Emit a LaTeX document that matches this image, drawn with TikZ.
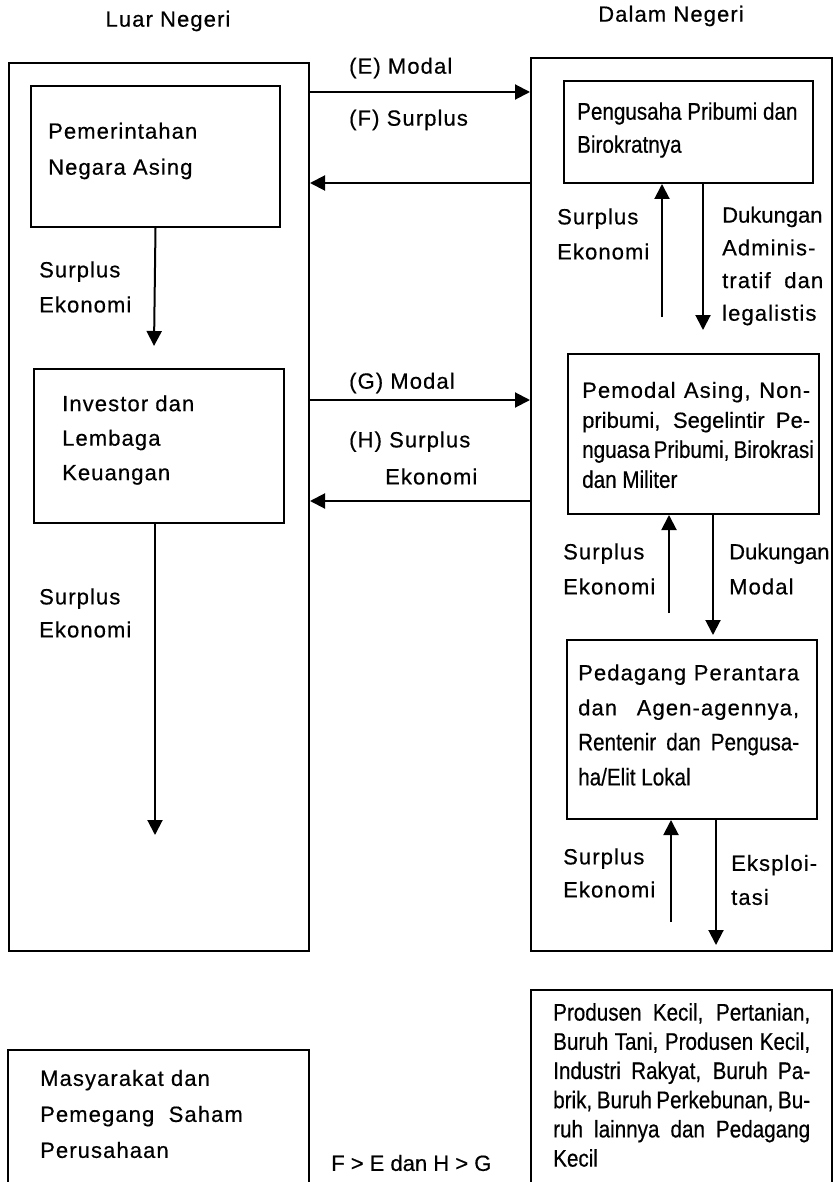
\documentclass[tikz,border=0pt]{standalone}
\usepackage{fontspec}
\setmainfont[FakeBold=0.5]{Liberation Sans}
\newfontfamily\widefont[LetterSpace=5,FakeBold=0.5]{Liberation Sans}
\newfontfamily\tightfont[FakeStretch=0.86,FakeBold=0.5]{Liberation Sans}
\usetikzlibrary{arrows.meta}

\tikzset{
  box/.style={draw, line width=2pt, inner sep=0pt, anchor=north west},
  arr/.style={line width=2pt, -{Triangle[length=15pt,width=15pt]}},
  lbl/.style={anchor=west, align=left, inner sep=0pt, font=\widefont\fontsize{22}{#1}\selectfont},
  lbl/.default=35,
  tlbl/.style={anchor=west, align=left, inner sep=0pt, font=\tightfont\fontsize{24}{#1}\selectfont},
  tlbl/.default=30,
  head/.style={inner sep=0pt, font=\widefont\fontsize{22}{26}\selectfont}
}

\begin{document}
\begin{tikzpicture}[x=1pt,y=-1pt]
  \useasboundingbox (0,0) rectangle (833,1182);
  \clip (0,0) rectangle (833,1182);

  \node[head] (luar) at (168,21) {Luar Negeri};
  \node[head] (dalam) at (671,16) {Dalam Negeri};

  \node[box, minimum width=300pt, minimum height=888pt] (lout) at (8,62) {};
  \node[box, minimum width=301pt, minimum height=893pt] (rout) at (530,57) {};

  \node[box, minimum width=249pt, minimum height=141pt] (gov) at (30,85) {};
  \node[box, minimum width=250pt, minimum height=154pt] (inv) at (33,368) {};
  \node[box, minimum width=249pt, minimum height=102pt] (peng) at (563,80) {};
  \node[box, minimum width=251pt, minimum height=160pt] (pmod) at (567,353) {};
  \node[box, minimum width=250pt, minimum height=179pt] (pdg) at (566,639) {};
  \node[box, minimum width=301pt, minimum height=170pt] (masy) at (7,1049) {};
  \node[box, minimum width=301pt, minimum height=230pt] (prod) at (530,989) {};

  \node[lbl=36] (govTxt) at (48,151) {Pemerintahan\\Negara Asing};
  \node[lbl=34.5] (invTxt) at (62,440) {Investor dan\\Lembaga\\Keuangan};
  \node[tlbl=33] (pengTxt) at (577,130) {Pengusaha Pribumi dan\\Birokratnya};
  \node[lbl=30] (pmodTxt) at (582,435) {\makebox[228pt][s]{Pemodal Asing, Non-}\\
    \makebox[228pt][s]{\normalfont pribumi, Segelintir Pe-}\\
    \makebox[228pt][s]{\tightfont\fontsize{24}{30}\selectfont nguasa Pribumi, Birokrasi}\\
    {\tightfont\fontsize{24}{30}\selectfont dan Militer}};
  \node[lbl=35] (pdgTxt) at (578,725) {\makebox[221pt][s]{Pedagang Perantara}\\
    \makebox[221pt][s]{dan Agen-agennya,}\\
    \makebox[221pt][s]{\tightfont\fontsize{24}{35}\selectfont Rentenir dan Pengusa-}\\
    {\tightfont\fontsize{24}{35}\selectfont ha/Elit Lokal}};
  \node[lbl=36] (masyTxt) at (40,1114) {Masyarakat dan\\Pemegang~~Saham\\Perusahaan};
  \node[tlbl=29.2] (prodTxt) at (553,1085) {\makebox[257pt][s]{Produsen Kecil, Pertanian,}\\
    \makebox[257pt][s]{Buruh Tani, Produsen Kecil,}\\
    \makebox[257pt][s]{Industri Rakyat, Buruh Pa-}\\
    \makebox[257pt][s]{brik, Buruh Perkebunan, Bu-}\\
    \makebox[257pt][s]{ruh lainnya dan Pedagang}\\
    Kecil};

  \node[lbl] (modE) at (349,68) {(E) Modal};
  \node[lbl] (surF) at (349,120) {(F) Surplus};
  \node[lbl] (modG) at (349,383) {(G) Modal};
  \node[lbl=37] (surH) at (349,458) {(H)~Surplus\\\hspace*{36pt}Ekonomi};
  \node[lbl] (surGov) at (39,287) {Surplus\\Ekonomi};
  \node[lbl=33] (surInv) at (39,613) {Surplus\\Ekonomi};
  \node[lbl] (surPeng) at (557,234) {Surplus\\Ekonomi};
  \node[lbl=32.7] (dukPeng) at (722,266) {{\normalfont Dukungan}\\Adminis-\\\makebox[101pt][s]{tratif dan}\\legalistis};
  \node[lbl] (surPmod) at (563,569) {Surplus\\Ekonomi};
  \node[lbl] (dukPmod) at (729,569) {{\normalfont Dukungan}\\Modal};
  \node[lbl=33] (surPdg) at (563,873) {Surplus\\Ekonomi};
  \node[lbl=34] (eksPdg) at (731,880) {Eksploi-\\tasi};
  \node[anchor=west, inner sep=0pt, font=\fontsize{22}{26}\selectfont] (rule) at (331,1163) {F~> E~dan H~> G};

  \coordinate (yE) at (0,92);
  \coordinate (yF) at (0,183);
  \coordinate (yG) at (0,400);
  \coordinate (yH) at (0,501);
  \draw[arr] (lout.east |- yE) -- (rout.west |- yE);
  \draw[arr] (rout.west |- yF) -- (lout.east |- yF);
  \draw[arr] (lout.east |- yG) -- (rout.west |- yG);
  \draw[arr] (rout.west |- yH) -- (lout.east |- yH);

  \coordinate (govEnd) at (154,346);
  \coordinate (invEnd) at (155,835);
  \draw[arr] (gov.south) -- (govEnd);
  \draw[arr] (inv.south -| invEnd) -- (invEnd);

  \coordinate (pengUp) at (662,317);
  \coordinate (pengDn) at (703,330);
  \draw[arr] (pengUp) -- (pengUp |- peng.south);
  \draw[arr] (pengDn |- peng.south) -- (pengDn);

  \coordinate (pmodUp) at (669,613);
  \coordinate (pmodDn) at (713,635);
  \draw[arr] (pmodUp) -- (pmodUp |- pmod.south);
  \draw[arr] (pmodDn |- pmod.south) -- (pmodDn);

  \coordinate (pdgUp) at (671,922);
  \coordinate (pdgDn) at (716,945);
  \draw[arr] (pdgUp) -- (pdgUp |- pdg.south);
  \draw[arr] (pdgDn |- pdg.south) -- (pdgDn);
\end{tikzpicture}
\end{document}
